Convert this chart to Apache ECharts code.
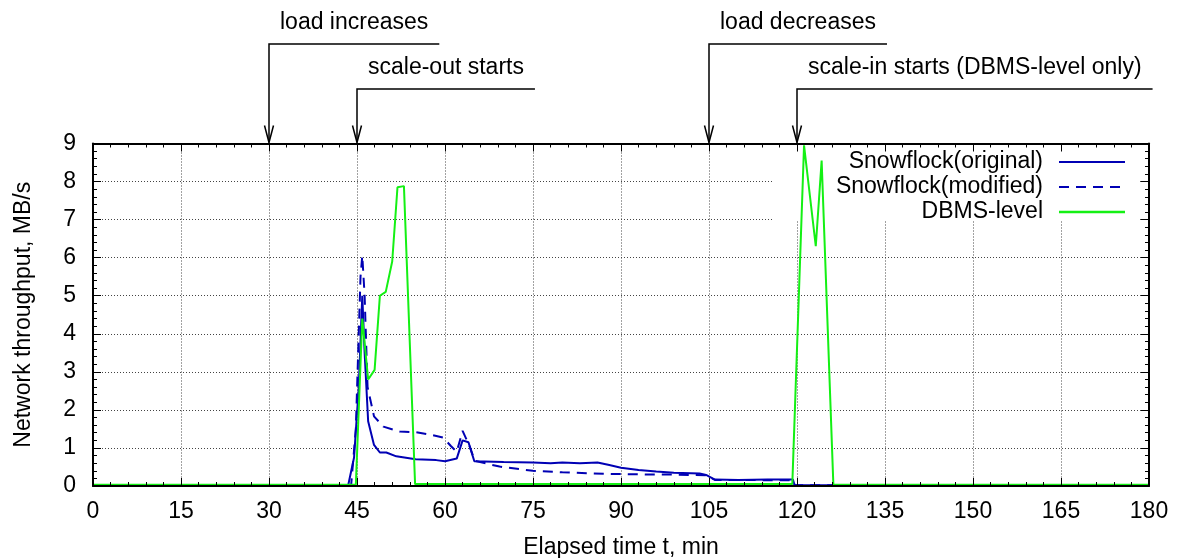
<!DOCTYPE html>
<html>
<head>
<meta charset="utf-8">
<title>Network throughput</title>
<script src="https://cdn.jsdelivr.net/npm/echarts@6/dist/echarts.min.js"></script>
<style>
    html, body { margin: 0; padding: 0; background: #fff; }
    #chart { width: 1179px; height: 558px; }
</style>
</head>
<body>
<div id="chart"></div>
<script type="text/javascript">
// [elapsed minutes, MB/s]
var snowOriginal = [
    [0, 0.02], [43.5, 0.02], [44.5, 0.75], [45.3, 2.6], [45.9, 5.0], [46.3, 3.5], [46.9, 1.7],
    [47.9, 1.08], [48.9, 0.88], [50, 0.88], [51.7, 0.78], [55, 0.7], [58.5, 0.68], [60, 0.65],
    [62, 0.72], [63, 1.2], [64, 1.15], [65, 0.65], [70, 0.63], [75, 0.62], [78, 0.6], [80, 0.62],
    [83, 0.6], [86, 0.62], [88, 0.55], [90, 0.48], [93, 0.42], [96, 0.38], [99, 0.35],
    [103.4, 0.33], [104.5, 0.29], [106, 0.17], [110, 0.16], [115, 0.17], [119.3, 0.17],
    [119.6, 0.02], [180, 0.02]
];
var snowModified = [
    [0, 0.02], [44, 0.02], [44.8, 1.5], [45.6, 5.5], [45.9, 6.05], [46.3, 5.0], [46.8, 2.6],
    [47.9, 1.83], [49.5, 1.56], [52.3, 1.43], [55.1, 1.41], [57.5, 1.35], [59.7, 1.27],
    [61, 1.05], [62, 0.9], [63, 1.45], [64.2, 1.04], [65.1, 0.66], [69.3, 0.51], [75, 0.4],
    [80, 0.36], [87.5, 0.32], [95, 0.3], [98.8, 0.3], [104.5, 0.28], [106, 0.16],
    [119.3, 0.15], [119.6, 0.02], [180, 0.02]
];
var dbmsLevel = [
    [0, 0.03], [44.8, 0.03], [45.9, 4.4], [46.9, 2.8], [48, 3.05], [48.9, 5.0], [49.9, 5.1],
    [51, 5.9], [51.9, 7.85], [53, 7.88], [54.9, 0.05], [119.2, 0.05], [121.2, 8.95],
    [123.2, 6.3], [124.2, 8.55], [126.2, 0.03], [180, 0.03]
];
var seriesNames = ['Snowflock(original)', 'Snowflock(modified)', 'DBMS-level'];

// events marked above the plot
var eventTimes = [30, 45, 105, 120];
var eventLabels = ['load increases', 'scale-out starts', 'load decreases', 'scale-in starts (DBMS-level only)'];
var eventRows = [0, 1, 0, 1];

var FONT = 'Liberation Sans';
var blue = '#0000b4';
var green = '#14f014';
var txt = { fontFamily: FONT, fontSize: 23, color: '#000' };

function frameAxis(pos, showLabel) {
    return {
        type: 'value', position: pos, min: 0,
        max: pos === 'bottom' || pos === 'top' ? 180 : 9,
        interval: pos === 'bottom' || pos === 'top' ? 15 : 1,
        z: 5,
        axisLine: { onZero: false, lineStyle: { color: '#000', width: 2 } },
        axisTick: { inside: true, length: 8, lineStyle: { color: '#000', width: 1 } },
        minorTick: { show: true, splitNumber: 5, length: 4, lineStyle: { color: '#000', width: 1 } },
        axisLabel: { show: showLabel, margin: showLabel ? (pos === 'left' ? 17 : 14) : 0,
            fontFamily: FONT, fontSize: 23, color: '#000' },
        splitLine: { show: false }
    };
}
function gridAxis(pos) {
    var horiz = pos === 'bottom';
    return {
        type: 'value', position: pos, min: 0, max: horiz ? 180 : 9, interval: horiz ? 15 : 1,
        z: 0,
        axisLine: { show: false }, axisTick: { show: false }, axisLabel: { show: false },
        splitLine: { show: true, lineStyle: { color: '#444', width: 1, type: [1, 2] } }
    };
}

var xBottom = frameAxis('bottom', true);
xBottom.name = 'Elapsed time t, min';
xBottom.nameLocation = 'middle';
xBottom.nameGap = 50;
xBottom.nameTextStyle = txt;
var yLeft = frameAxis('left', true);
yLeft.name = 'Network throughput, MB/s';
yLeft.nameLocation = 'middle';
yLeft.nameGap = 58;
yLeft.nameTextStyle = txt;

var option = {
    animation: false,
    backgroundColor: '#fff',
    grid: { left: 93, right: 30, top: 143.5, bottom: 72, containLabel: false, outerBoundsMode: 'none' },
    xAxis: [xBottom, frameAxis('top', false), gridAxis('bottom')],
    yAxis: [yLeft, frameAxis('right', false), gridAxis('left')],
    series: [
        { name: seriesNames[0], type: 'line', data: snowOriginal, symbol: 'none', z: 2,
          lineStyle: { color: blue, width: 2 } },
        { name: seriesNames[1], type: 'line', data: snowModified, symbol: 'none', z: 2,
          lineStyle: { color: blue, width: 2, type: [10, 7] } },
        { name: seriesNames[2], type: 'line', data: dbmsLevel, symbol: 'none', z: 2,
          lineStyle: { color: green, width: 2 } }
    ]
};

var chart = echarts.init(document.getElementById('chart'));
chart.setOption(option);

// annotations and key
var ctx = document.createElement('canvas').getContext('2d');
ctx.font = '23px "' + FONT + '"';
var topY = chart.convertToPixel({ yAxisIndex: 0 }, 9);
var graphics = [];
eventTimes.forEach(function (t, i) {
    var x = chart.convertToPixel({ xAxisIndex: 0 }, t);
    var lineY = eventRows[i] ? 89 : 44;
    var w = ctx.measureText(eventLabels[i]).width;
    graphics.push({ type: 'polyline', z: 10,
        shape: { points: [[x + w + 22, lineY], [x, lineY], [x, topY - 1]] },
        style: { stroke: '#000', lineWidth: 1.5, fill: null } });
    graphics.push({ type: 'polyline', z: 10,
        shape: { points: [[x - 4.5, topY - 18], [x, topY - 1], [x + 4.5, topY - 18]] },
        style: { stroke: '#000', lineWidth: 1.5, fill: null } });
    graphics.push({ type: 'text', z: 10, x: x + 11, y: lineY - 21,
        style: { text: eventLabels[i], fontFamily: FONT, fontSize: 23, fill: '#000',
                 align: 'left', verticalAlign: 'middle' } });
});

// key box (white, hides grid lines) + entries
graphics.push({ type: 'rect', z: 1, shape: { x: 773, y: topY + 1, width: 365, height: 220 - topY - 1 },
    style: { fill: '#fff', stroke: null } });
var keyStyles = [
    { stroke: blue, lineWidth: 2 },
    { stroke: blue, lineWidth: 2, lineDash: [10, 7] },
    { stroke: green, lineWidth: 2.5 }
];
seriesNames.forEach(function (name, i) {
    var y = 162 + i * 25;
    graphics.push({ type: 'text', z: 6, x: 1043, y: y,
        style: { text: name, fontFamily: FONT, fontSize: 23, fill: '#000',
                 align: 'right', verticalAlign: 'middle' } });
    graphics.push({ type: 'line', z: 6, shape: { x1: 1059, y1: y, x2: 1125, y2: y },
        style: keyStyles[i] });
});

chart.setOption({ graphic: graphics });
</script>
</body>
</html>
